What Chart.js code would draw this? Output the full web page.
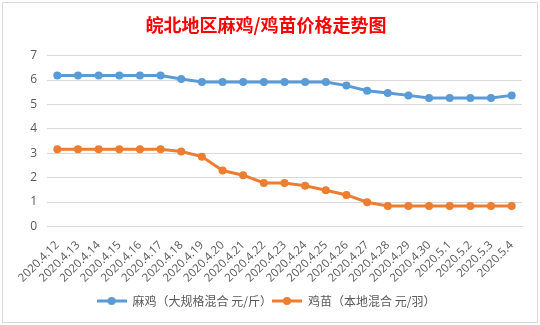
<!DOCTYPE html>
<html>
<head>
<meta charset="utf-8">
<script src="https://cdn.jsdelivr.net/npm/chart.js@4"></script>
<style>
html,body{margin:0;padding:0;background:#fff;}
#wrap{position:absolute;left:0;top:0;width:540px;height:325px;}
#frame{position:absolute;left:2px;top:2px;width:534px;height:319px;border:1px solid #d9d9d9;pointer-events:none;}
</style>
</head>
<body>
<div id="wrap"><canvas id="c" width="540" height="325"></canvas></div>
<div id="frame"></div>
<script>
const categories = ["2020.4.12","2020.4.13","2020.4.14","2020.4.15","2020.4.16","2020.4.17","2020.4.18","2020.4.19","2020.4.20","2020.4.21","2020.4.22","2020.4.23","2020.4.24","2020.4.25","2020.4.26","2020.4.27","2020.4.28","2020.4.29","2020.4.30","2020.5.1","2020.5.2","2020.5.3","2020.5.4"];
const maji = [6.18,6.18,6.18,6.18,6.18,6.18,6.04,5.92,5.92,5.92,5.92,5.92,5.92,5.92,5.77,5.56,5.47,5.37,5.26,5.26,5.26,5.26,5.37];
const jimiao = [3.16,3.16,3.16,3.16,3.16,3.16,3.07,2.86,2.29,2.1,1.78,1.78,1.67,1.48,1.29,0.99,0.84,0.84,0.84,0.84,0.84,0.84,0.84];
const seriesNames = ["麻鸡（大规格混合 元/斤）","鸡苗（本地混合 元/羽）"];
const titleText = "皖北地区麻鸡/鸡苗价格走势图";
const yTicks = [0,1,2,3,4,5,6,7];

const BLUE = "#5B9BD5", ORANGE = "#ED7D31";
function legendIcon(color){
  const cv = document.createElement('canvas');
  cv.width = 30; cv.height = 10;
  const g = cv.getContext('2d');
  g.strokeStyle = color; g.lineWidth = 3; g.lineCap = 'butt';
  g.beginPath(); g.moveTo(0,5); g.lineTo(30,5); g.stroke();
  g.fillStyle = color; g.beginPath(); g.arc(15,5,4,0,Math.PI*2); g.fill();
  return cv;
}
const icons = [legendIcon(BLUE), legendIcon(ORANGE)];

new Chart(document.getElementById('c'), {
  type: 'line',
  data: {
    labels: categories,
    datasets: [
      {label: seriesNames[0], data: maji, borderColor: BLUE, backgroundColor: BLUE, borderWidth: 3, pointRadius: 4, pointBackgroundColor: BLUE, pointBorderWidth: 0, tension: 0},
      {label: seriesNames[1], data: jimiao, borderColor: ORANGE, backgroundColor: ORANGE, borderWidth: 3, pointRadius: 4, pointBackgroundColor: ORANGE, pointBorderWidth: 0, tension: 0}
    ]
  },
  options: {
    responsive: false,
    animation: false,
    layout: {padding: {left: 10, right: 18, top: 4, bottom: 8}},
    plugins: {
      title: {display: true, text: titleText, color: '#FF0000', font: {family: "'Noto Sans CJK SC'", size: 18, weight: 'bold'}, padding: {top: 10, bottom: 20}},
      legend: {
        position: 'bottom',
        labels: {
          color: '#595959',
          font: {family: "'Noto Sans CJK SC'", size: 12},
          usePointStyle: true,
          pointStyleWidth: 30,
          boxHeight: 10,
          padding: 0,
          generateLabels: (chart) => chart.data.datasets.map((ds, i) => ({
            text: ds.label, fillStyle: ds.borderColor, strokeStyle: ds.borderColor, lineWidth: 0,
            pointStyle: icons[i], datasetIndex: i, hidden: false, fontColor: '#595959'
          }))
        }
      },
      tooltip: {enabled: false}
    },
    scales: {
      x: {
        offset: true,
        grid: {display: false},
        border: {display: true, color: '#d9d9d9'},
        afterFit: (s) => { s.height += 6; },
        ticks: {color: '#595959', font: {family: "'Open Sans'", size: 11.5}, minRotation: 45, maxRotation: 45, autoSkip: false, padding: 4}
      },
      y: {
        min: 0, max: 7,
        afterBuildTicks: (s) => { s.ticks = yTicks.map(v => ({value: v})); },
        afterFit: (s) => { s.width = 37; },
        grid: {color: '#d9d9d9', drawTicks: false},
        border: {display: false},
        ticks: {color: '#595959', font: {family: "'Open Sans'", size: 12}, padding: 10}
      }
    }
  }
});
</script>
</body>
</html>
